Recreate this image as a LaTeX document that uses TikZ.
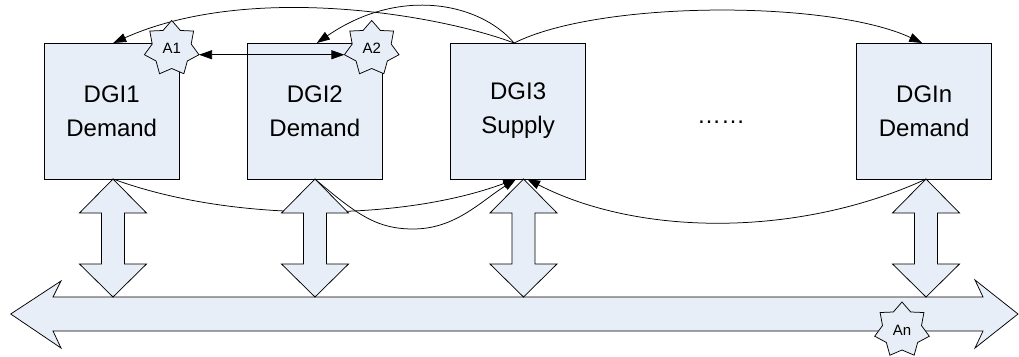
\documentclass[tikz,border=0pt]{standalone}
\usepackage{fontspec}
\setmainfont{Liberation Sans}
\usetikzlibrary{shapes.geometric,arrows.meta}
\definecolor{boxfill}{RGB}{232,238,247}
\begin{document}
\begin{tikzpicture}[x=1pt,y=-1pt,
  dgibox/.style={draw=black, line width=0.75pt, fill=boxfill, minimum width=135pt, minimum height=136pt, inner sep=0pt, outer sep=0pt, align=center, font=\fontsize{24}{34}\selectfont},
  agent/.style={star, star points=7, star point ratio=1.4, minimum size=56pt, inner sep=0pt, outer sep=0pt, draw=black, line width=0.75pt, fill=boxfill, font=\fontsize{15}{17}\selectfont},
  shapeline/.style={draw=black, line width=0.75pt, fill=boxfill, line join=miter},
  msg/.style={draw=black, line width=0.75pt, -{Triangle[length=13pt,width=9pt]}},
  dblmsg/.style={draw=black, line width=0.75pt, {Triangle[length=13pt,width=9pt]}-{Triangle[length=13pt,width=9pt]}},
]
\useasboundingbox (0,0) rectangle (1019,356);
% boxes
\node[dgibox] (d1) at (111.7,111) {DGI1\\Demand};
\node[dgibox] (d2) at (314.8,111) {DGI2\\Demand};
\node[dgibox] (d3) at (518.1,111) {DGI3\\Supply};
\node[dgibox] (dn) at (924.2,111) {DGIn\\Demand};
\node[font=\fontsize{24}{28}\selectfont, anchor=base, inner sep=0pt] (dots) at (721,123) {……};
% bus
\draw[shapeline] (53,297) -- (983,297) -- (975,280) -- (1018,314) -- (975,348) -- (983,331) -- (53,331) -- (61,348) -- (10.7,314) -- (61,281) -- cycle;
% vertical double arrows (except DGI2)
\foreach \c in {113,523.5,926} {
  \draw[shapeline] (\c,179) -- (\c+33.5,213) -- (\c+11.5,213) -- (\c+11.5,264) -- (\c+33.5,264) -- (\c,297) -- (\c-33.5,264) -- (\c-11.5,264) -- (\c-11.5,213) -- (\c-33.5,213) -- cycle;
}
% top curves
\draw[msg] ([xshift=-4pt]d3.north) .. controls (440,15) and (250,-18) .. ([xshift=1.5pt]d1.north);
\draw[msg] ([xshift=-4pt]d3.north) .. controls (480,3) and (400,-14) .. ([xshift=2pt]d2.north);
\draw[msg] ([xshift=-4pt]d3.north) .. controls (600,0) and (830,0) .. ([xshift=-2pt]dn.north);
% bottom curves
\draw[msg] ([xshift=1.3pt]d1.south) .. controls (230,222) and (400,222) .. ([xshift=-2pt]d3.south);
\draw[msg] (d2.south) .. controls (355,212.6) and (375,229) .. (413,229) .. controls (455,229) and (480,202) .. ([xshift=-2pt]d3.south);
\draw[msg] ([xshift=2pt]dn.south) .. controls (800,237) and (640,237) .. ([xshift=9pt]d3.south);
% DGI2 vertical arrow on top
\foreach \c in {315} {
  \draw[shapeline] (\c,179) -- (\c+33.5,213) -- (\c+11.5,213) -- (\c+11.5,264) -- (\c+33.5,264) -- (\c,297) -- (\c-33.5,264) -- (\c-11.5,264) -- (\c-11.5,213) -- (\c-33.5,213) -- cycle;
}
% stars
\node[agent] (a1) at (171.7,48.5) {A1};
\node[agent] (a2) at (371.7,48.5) {A2};
\node[agent] (an) at (902,330) {An};
\draw[dblmsg] (a1.outer point 6) -- (a2.outer point 3);
\end{tikzpicture}
\end{document}
